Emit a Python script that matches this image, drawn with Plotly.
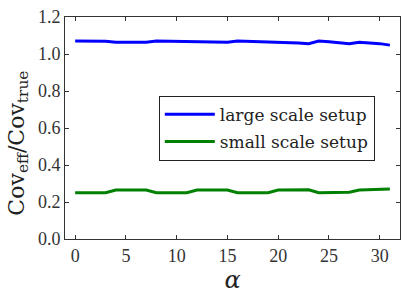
import plotly.graph_objects as go

alpha = list(range(32))
large_scale = [1.070, 1.070, 1.069, 1.069, 1.064, 1.064, 1.064, 1.064,
               1.070, 1.069, 1.069, 1.068, 1.064, 1.064, 1.063, 1.063,
               1.070, 1.069, 1.067, 1.064, 1.064, 1.063, 1.060, 1.056,
               1.070, 1.066, 1.060, 1.055, 1.063, 1.061, 1.056, 1.048]
small_scale = [0.250, 0.250, 0.250, 0.250, 0.265, 0.265, 0.265, 0.265,
               0.250, 0.250, 0.250, 0.250, 0.265, 0.265, 0.265, 0.265,
               0.250, 0.250, 0.250, 0.250, 0.265, 0.265, 0.265, 0.266,
               0.250, 0.250, 0.250, 0.253, 0.265, 0.266, 0.267, 0.270]
x_ticks = [0, 5, 10, 15, 20, 25, 30]
y_ticks = [0.0, 0.2, 0.4, 0.6, 0.8, 1.0, 1.2]

serif = "DejaVu Serif"
tick_font = "Liberation Serif"

fig = go.Figure()
fig.add_trace(go.Scatter(x=alpha, y=large_scale, mode="lines", name="large scale setup",
                         legendgroup="a", line=dict(color="#0000ff", width=3)))
fig.add_trace(go.Scatter(x=alpha, y=small_scale, mode="lines", name="small scale setup",
                         legendgroup="b", line=dict(color="#008000", width=3)))

axis_common = dict(showline=True, linecolor="#333", linewidth=1, mirror="ticks",
                   ticks="inside", ticklen=4, tickcolor="#333", showgrid=False,
                   zeroline=False, automargin=False,
                   tickfont=dict(family=tick_font, size=18, color="#333"))

fig.update_layout(
    width=407, height=298,
    margin=dict(l=65, r=7, t=17, b=59),
    paper_bgcolor="white", plot_bgcolor="white",
    xaxis=dict(range=[-1, 32], tickvals=x_ticks,
               title=dict(text="<i>α</i>", font=dict(family=serif, size=24, color="#222"),
                          standoff=6),
               **axis_common),
    yaxis=dict(range=[0, 1.2], tickvals=y_ticks, tickformat=".1f",
               **axis_common),
    legend=dict(x=0.28, y=0.645, xanchor="left", yanchor="top",
                bordercolor="#222", borderwidth=1, bgcolor="white",
                font=dict(family=serif, size=17, color="#222"),
                tracegroupgap=2, itemwidth=50),
    showlegend=True,
)

fig.add_annotation(text="Cov<sub>eff</sub>/Cov<sub>true</sub>", textangle=-90,
                   xref="paper", yref="paper", x=-0.14, y=0.43,
                   xanchor="center", yanchor="middle", showarrow=False,
                   font=dict(family=serif, size=22, color="#222"))

fig.write_html("out.html", config={"displayModeBar": False},
               post_script="document.body.style.margin='0';document.body.style.overflow='hidden';")
